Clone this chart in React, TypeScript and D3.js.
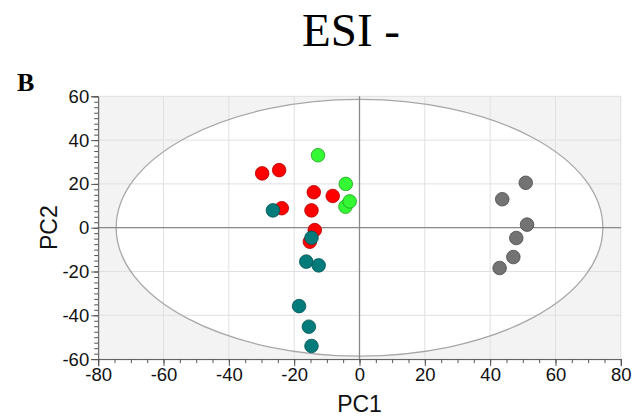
import React, { useEffect, useRef } from 'react';
import * as d3 from 'd3';

// PCA scores (PC1, PC2)
const redPoints: [number, number][] = [
  [-29.8, 24.8], [-24.6, 26.3], [-14.0, 16.2], [-8.2, 14.5],
  [-23.8, 8.9], [-14.7, 7.9], [-13.7, -1.1], [-15.2, -6.4],
];
const greenPoints: [number, number][] = [
  [-12.7, 33.1], [-4.2, 20.0], [-4.3, 9.6], [-3.0, 12.0],
];
const tealPoints: [number, number][] = [
  [-26.5, 7.9], [-14.7, -4.6], [-16.3, -15.5], [-12.5, -17.2],
  [-18.5, -35.8], [-15.5, -45.2], [-14.7, -54.0],
];
const greyPoints: [number, number][] = [
  [50.9, 20.5], [43.7, 13.0], [51.3, 1.4], [48.0, -4.7], [47.1, -13.4], [42.9, -18.4],
];
const xTicks = [-80, -60, -40, -20, 0, 20, 40, 60, 80];
const yTicks = [-60, -40, -20, 0, 20, 40, 60];
// Hotelling T2 ellipse radii (in PC units)
const ellipseRadii = [74.5, 58.6];

const groups = [
  { pts: redPoints, fill: '#ff0000', stroke: '#b30000' },
  { pts: greenPoints, fill: '#33f833', stroke: '#1e9e1e' },
  { pts: tealPoints, fill: '#037b7b', stroke: '#025252' },
  { pts: greyPoints, fill: '#737373', stroke: '#4a4a4a' },
];

const App = () => {
  const ref = useRef<SVGSVGElement>(null);

  useEffect(() => {
    const svg = d3.select(ref.current);
    svg.selectAll('*').remove();

    const x = d3.scaleLinear().domain([-80, 80]).range([98.2, 620.8]);
    const y = d3.scaleLinear().domain([-60, 60]).range([359.1, 96.3]);
    const [x0, x1] = x.range();
    const [y0, y1] = y.range();

    // title and panel letter
    svg.append('text')
      .attr('x', 351).attr('y', 46)
      .attr('text-anchor', 'middle')
      .style('font-family', '"Liberation Serif", "Times New Roman", serif')
      .style('font-size', '47px')
      .text('ESI -');
    svg.append('text')
      .attr('x', 17).attr('y', 91)
      .style('font-family', '"Liberation Serif", "Times New Roman", serif')
      .style('font-size', '26px')
      .style('font-weight', 'bold')
      .text('B');

    // plot background + ellipse
    svg.append('rect')
      .attr('x', x0).attr('y', y1)
      .attr('width', x1 - x0).attr('height', y0 - y1)
      .attr('fill', '#f3f3f3');
    svg.append('ellipse')
      .attr('cx', x(0)).attr('cy', y(0))
      .attr('rx', x(ellipseRadii[0]) - x(0))
      .attr('ry', y(0) - y(ellipseRadii[1]))
      .attr('fill', '#fff');

    // grid
    const grid = svg.append('g').attr('stroke', '#e0e0e0').attr('stroke-width', 1);
    xTicks.forEach(t => {
      grid.append('line').attr('x1', x(t)).attr('x2', x(t)).attr('y1', y1).attr('y2', y0);
    });
    yTicks.forEach(t => {
      grid.append('line').attr('x1', x0).attr('x2', x1).attr('y1', y(t)).attr('y2', y(t));
    });

    svg.append('ellipse')
      .attr('cx', x(0)).attr('cy', y(0))
      .attr('rx', x(ellipseRadii[0]) - x(0))
      .attr('ry', y(0) - y(ellipseRadii[1]))
      .attr('fill', 'none')
      .attr('stroke', '#a8a8a8')
      .attr('stroke-width', 1.3);

    // zero lines
    svg.append('line')
      .attr('x1', x(0)).attr('x2', x(0)).attr('y1', y1).attr('y2', y0)
      .attr('stroke', '#8a8a8a').attr('stroke-width', 1.3);
    svg.append('line')
      .attr('x1', x0).attr('x2', x1).attr('y1', y(0)).attr('y2', y(0))
      .attr('stroke', '#8a8a8a').attr('stroke-width', 1.3);

    // axes
    const font = '"Liberation Sans", Arial, sans-serif';
    const fmt = (d: d3.NumberValue) => String(d);

    const xMinor = svg.append('g').attr('transform', `translate(0,${y0})`)
      .call(d3.axisBottom(x).tickValues(d3.range(-80, 81, 5)).tickSize(4).tickFormat(() => ''));
    xMinor.select('.domain').remove();
    svg.append('g').attr('transform', `translate(0,${y0})`)
      .call(d3.axisBottom(x).tickValues(xTicks).tickSize(7).tickPadding(2).tickFormat(fmt))
      .call(g => g.select('.domain').attr('stroke', '#555'))
      .call(g => g.selectAll('.tick text').style('font-family', font).style('font-size', '18.5px').attr('fill', '#111'));

    const yMinor = svg.append('g').attr('transform', `translate(${x0},0)`)
      .call(d3.axisLeft(y).tickValues(d3.range(-60, 60.1, 2.5)).tickSize(4).tickFormat(() => ''));
    yMinor.select('.domain').remove();
    svg.append('g').attr('transform', `translate(${x0},0)`)
      .call(d3.axisLeft(y).tickValues(yTicks).tickSize(7).tickPadding(2).tickFormat(fmt))
      .call(g => g.select('.domain').attr('stroke', '#555'))
      .call(g => g.selectAll('.tick text').style('font-family', font).style('font-size', '18.5px').attr('fill', '#111'));
    svg.selectAll('.tick line').attr('stroke', '#555');

    svg.append('text')
      .attr('x', x(0)).attr('y', 412)
      .attr('text-anchor', 'middle')
      .style('font-family', font).style('font-size', '23px')
      .attr('fill', '#111')
      .text('PC1');
    svg.append('text')
      .attr('transform', `translate(57,${y(0)}) rotate(-90)`)
      .attr('text-anchor', 'middle')
      .style('font-family', font).style('font-size', '23px')
      .attr('fill', '#111')
      .text('PC2');

    // points
    groups.forEach(gr => {
      svg.append('g').selectAll('circle')
        .data(gr.pts)
        .enter()
        .append('circle')
        .attr('cx', d => x(d[0]))
        .attr('cy', d => y(d[1]))
        .attr('r', 6.8)
        .attr('fill', gr.fill)
        .attr('stroke', gr.stroke)
        .attr('stroke-width', 0.8);
    });
  }, []);

  return (
    <svg ref={ref} width={634} height={419}
      style={{ position: 'absolute', left: 0, top: 0, background: '#fff' }} />
  );
};

export default App;
